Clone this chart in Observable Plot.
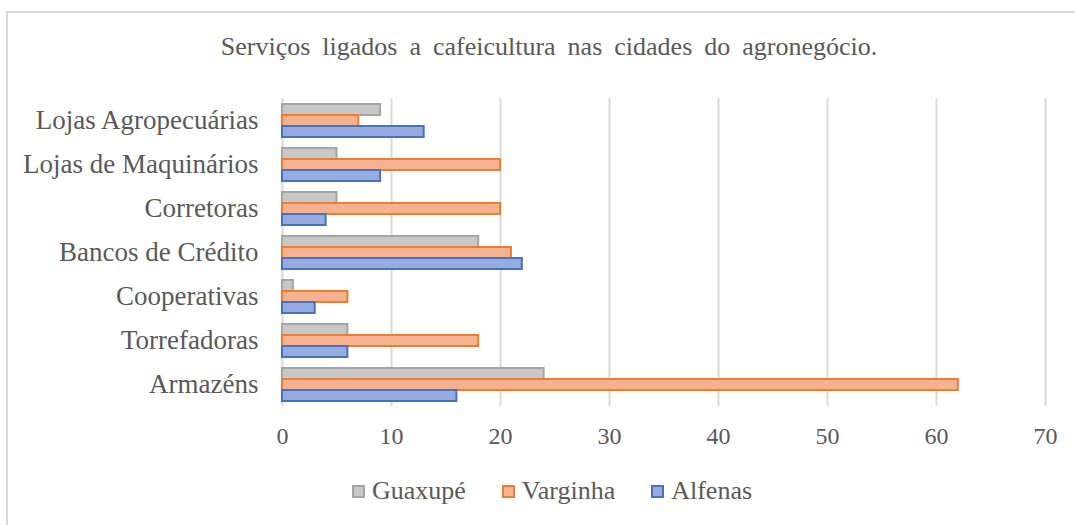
<!DOCTYPE html>
<html>
<head>
<meta charset="utf-8">
<script src="https://cdn.jsdelivr.net/npm/d3@7"></script>
<script src="https://cdn.jsdelivr.net/npm/@observablehq/plot@0.6"></script>
<style>
  html, body { margin: 0; padding: 0; background: #fff; }
  #wrap { position: relative; width: 1075px; height: 525px; overflow: hidden; font-family: "Liberation Serif", "Times New Roman", serif; color: #595959; }
  #frame { position: absolute; left: 6px; top: 11px; width: 1200px; height: 700px; border-left: 2px solid #d9d9d9; border-top: 2px solid #d9d9d9; pointer-events: none; }
  #title { position: relative; height: 48px; padding-top: 32px; padding-left: 23px; text-align: center; font-size: 26px; line-height: 30px; word-spacing: 5.5px; white-space: nowrap; }
  #chart svg { display: block; }
  #legend { position: relative; margin-top: 11px; padding-left: 29px; display: flex; justify-content: center; gap: 36px; font-size: 26px; line-height: 30px; }
  .item { display: flex; align-items: center; gap: 7px; }
  .sw { width: 9px; height: 9px; border: 2px solid; }
</style>
</head>
<body>
<div id="wrap">
  <div id="frame"></div>
  <div id="title">Serviços ligados a cafeicultura nas cidades do agronegócio.</div>
  <div id="chart"></div>
  <div id="legend"></div>
</div>
<script>
const categories = ["Lojas Agropecuárias", "Lojas de Maquinários", "Corretoras", "Bancos de Crédito", "Cooperativas", "Torrefadoras", "Armazéns"];
const series = ["Guaxupé", "Varginha", "Alfenas"];
const guaxupe = [9, 5, 5, 18, 1, 6, 24];
const varginha = [7, 20, 20, 21, 6, 18, 62];
const alfenas = [13, 9, 4, 22, 3, 6, 16];
const xTicks = [0, 10, 20, 30, 40, 50, 60, 70];

const fills = ["#c8c8c8", "#f5b290", "#98abde"];
const strokes = ["#a5a5a5", "#ed7d31", "#4472c4"];
const values = [guaxupe, varginha, alfenas];

const rows = [];
series.forEach((s, i) => categories.forEach((c, j) => rows.push({category: c, series: s, value: values[i][j]})));

const chart = Plot.plot({
  width: 1075,
  height: 385,
  marginLeft: 282,
  marginRight: 30,
  marginTop: 16,
  marginBottom: 57,
  style: {fontFamily: "'Liberation Serif', 'Times New Roman', serif", color: "#595959", background: "transparent"},
  x: {domain: [0, 70], label: null},
  fy: {domain: categories, padding: 0, label: null},
  y: {domain: series, paddingInner: 0, paddingOuter: 0.45, axis: null},
  marks: [
    Plot.gridX(xTicks, {stroke: "#d9d9d9", strokeOpacity: 1, strokeWidth: 2}),
    ...series.map((s, i) => Plot.barX(rows.filter(r => r.series === s), {
      x: "value", y: "series", fy: "category",
      fill: fills[i], stroke: strokes[i], strokeWidth: 2
    })),
    Plot.axisX(xTicks, {anchor: "bottom", tickSize: 0, tickPadding: 20, fontSize: 24, fill: "#595959", label: null}),
    Plot.axisFy({anchor: "left", tickSize: 0, tickPadding: 24, fontSize: 27, fill: "#595959", label: null})
  ]
});
document.getElementById("chart").appendChild(chart);

const legend = document.getElementById("legend");
series.forEach((s, i) => {
  const it = document.createElement("div");
  it.className = "item";
  const sw = document.createElement("span");
  sw.className = "sw";
  sw.style.background = fills[i];
  sw.style.borderColor = strokes[i];
  const t = document.createElement("span");
  t.textContent = s;
  it.appendChild(sw); it.appendChild(t);
  legend.appendChild(it);
});
</script>
</body>
</html>
